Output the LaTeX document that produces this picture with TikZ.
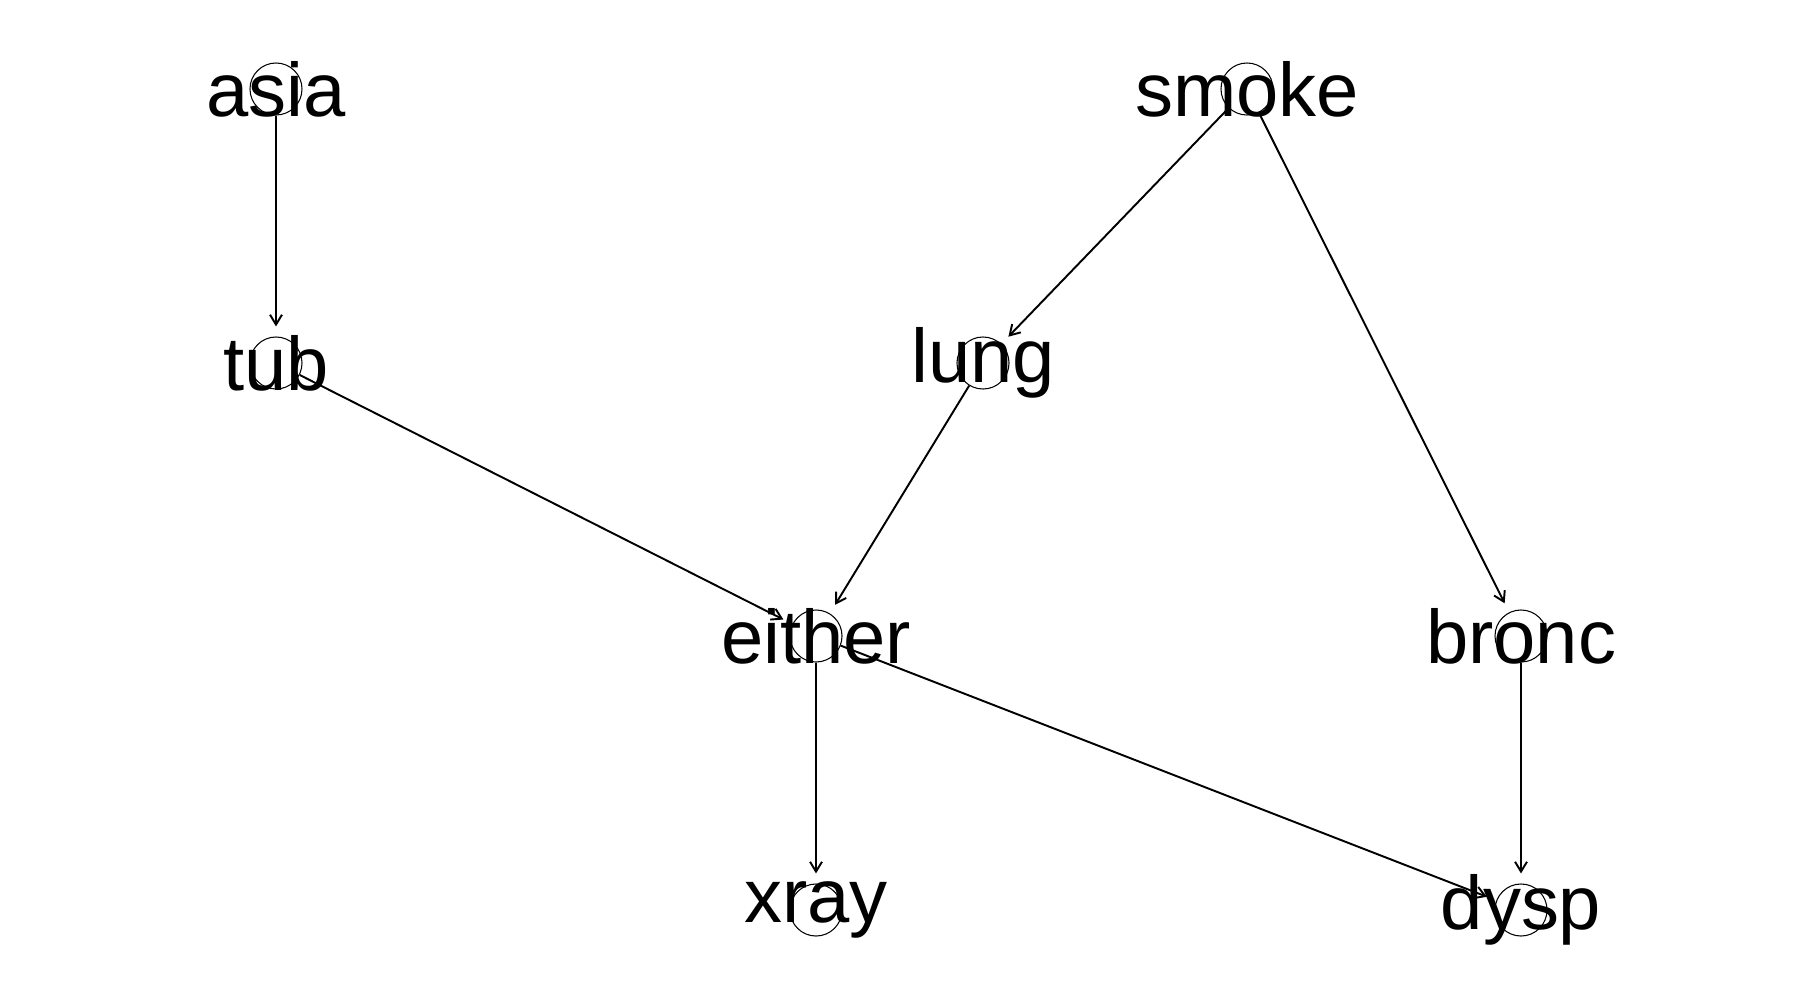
\documentclass[tikz,border=0pt]{standalone}
\usepackage{fontspec}
\setmainfont{Liberation Sans}
\usetikzlibrary{arrows.meta}
\tikzset{
    CC/.style ={circle,minimum size=0.52cm,inner sep=0pt,draw=black,line width=0.3pt},
    TX/.style ={inner sep=0pt,font=\fontsize{21.6pt}{24pt}\selectfont},
    ED/.style ={-{Straight Barb[length=2.8pt,width=3.4pt]},line width=0.55pt,shorten >=0.1cm}
}

\begin{document}
\begin{tikzpicture}[x=0.01cm,y=-0.01cm]
        \useasboundingbox (0,0) rectangle (1800,1000);
        \node[CC,label={[TX]center:asia}] (asia) at (276,89) {};
        \node[CC,label={[TX]center:tub}] (tub) at (276,363) {};
        \node[CC,label={[TX]center:smoke}] (smoke) at (1247,89) {};
        \node[CC,label={[TX]center:lung}] (lung) at (983,363) {};
        \node[CC,label={[TX]center:either}] (either) at (816,636) {};
        \node[CC,label={[TX]center:bronc}] (bronc) at (1521,636) {};
        \node[CC,label={[TX]center:xray}] (xray) at (816,910) {};
        \node[CC,label={[TX]center:dysp}] (dysp) at (1521,910) {};
        \draw[ED] (asia) -- (tub);
        \draw[ED] (smoke) -- (lung);
        \draw[ED] (smoke) -- (bronc);
        \draw[ED] (tub) -- (either);
        \draw[ED] (lung) -- (either);
        \draw[ED] (either) -- (xray);
        \draw[ED] (either) -- (dysp);
        \draw[ED] (bronc) -- (dysp);
\end{tikzpicture}
\end{document}
